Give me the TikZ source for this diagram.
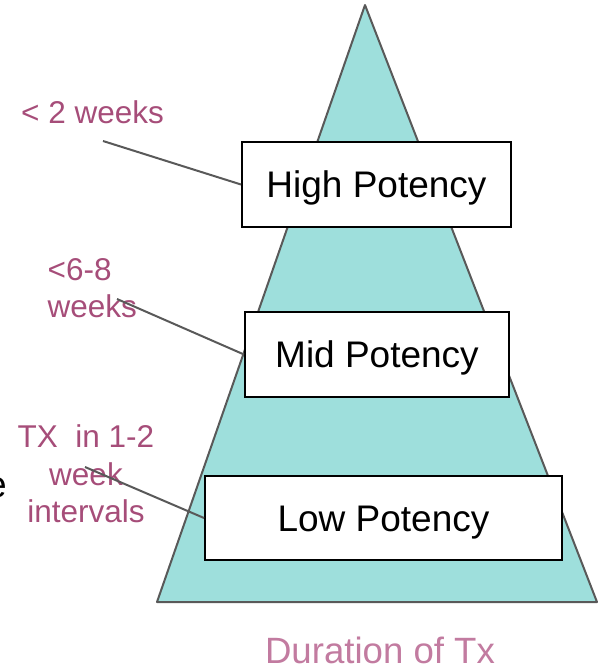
\documentclass[tikz,border=0pt]{standalone}
\usepackage{fontspec}
\setmainfont{Liberation Sans}
\definecolor{tri}{HTML}{9EDFDC}
\definecolor{edgegray}{HTML}{595959}
\definecolor{lab}{HTML}{A64D79}
\definecolor{dur}{HTML}{C27BA0}
\begin{document}
\begin{tikzpicture}[x=1pt,y=-1pt,
  potbox/.style={draw=black, line width=2pt, fill=white, inner sep=0pt,
    font=\fontsize{37}{44}\selectfont, text height=26.6pt, text depth=0pt},
  labtext/.style={text=lab, inner sep=0pt, font=\fontsize{31.5}{37.7}\selectfont},
  conn/.style={draw=edgegray, line width=2pt}]
\useasboundingbox (0,0) rectangle (601,670);
\clip (0,0) rectangle (601,670);
\coordinate (apex) at (365,5);
\coordinate (bl) at (157,602);
\coordinate (br) at (597,602);
\draw[draw=edgegray, line width=2pt, fill=tri, line join=round] (apex) -- (br) -- (bl) -- cycle;
\node[potbox, minimum width=269pt, minimum height=85pt] (high) at (376.5,184.5) {High Potency};
\node[potbox, minimum width=264pt, minimum height=85pt] (mid) at (377,354.5) {Mid Potency};
\node[potbox, minimum width=357pt, minimum height=84pt] (low) at (383.5,518) {Low Potency};
\node[labtext, anchor=base west] (l1) at (21,123) {< 2 weeks};
\node[labtext, anchor=north west, align=left] (l2) at (47.5,258) {<6-8\\weeks};
\node[labtext, anchor=north, align=center] (l3) at (86,424.5) {TX~ in 1-2\\week\\intervals};
\node[text=dur, inner sep=0pt, anchor=base, font=\fontsize{36.6}{44}\selectfont] (dur) at (380,663) {Duration of Tx};
\node[inner sep=0pt, anchor=base east, font=\fontsize{37}{44}\selectfont] (e) at (7,497) {e};
\coordinate (c1) at (103,141);
\coordinate (c2) at (117,299);
\coordinate (c3) at (85,467);
\draw[conn] (c1) -- (high.west);
\draw[conn] (c2) -- (mid.west);
\draw[conn] (c3) -- (low.west);
\end{tikzpicture}
\end{document}
